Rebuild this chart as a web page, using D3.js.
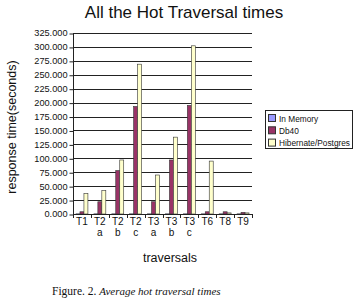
<!DOCTYPE html>
<html><head><meta charset="utf-8">
<script src="https://cdn.jsdelivr.net/npm/d3@7"></script>
<style>body{margin:0;background:#fff}svg{display:block}</style>
</head><body>
<svg id="c" width="363" height="301"></svg>
<script>
const categories = [["T1"],["T2","a"],["T2","b"],["T2","c"],["T3","a"],["T3","b"],["T3","c"],["T6"],["T8"],["T9"]];
const seriesNames = ["In Memory","Db40","Hibernate/Postgres"];
const inMemory = [0.3,0.3,0.3,0.3,0.3,0.3,0.3,0.3,0.3,0.3];
const db40 = [4,22,78,193,22,97,195,4,4,3];
const hibernate = [37,42,97,269,70,138,302,95,2,2];
const yTicks = [0,25,50,75,100,125,150,175,200,225,250,275,300,325];
const colors = ["#9999FF","#993366","#FFFFCC"];

const svg = d3.select("#c");
const L=73,R=252,T=33,B=214;
const x = d3.scaleBand().domain(d3.range(categories.length)).range([L,R]).paddingInner(0).paddingOuter(0);
const y = d3.scaleLinear().domain([0,325]).range([B,T]);
const series=[inMemory,db40,hibernate];
const bw = x.bandwidth()/4.5;

// gridlines
svg.append("g").selectAll("line").data(yTicks.filter(d=>d>0)).join("line")
  .attr("x1",L).attr("x2",R).attr("y1",d=>Math.round(y(d))+0.5).attr("y2",d=>Math.round(y(d))+0.5)
  .attr("stroke","#222").attr("stroke-width",1);

// bars
series.forEach((s,si)=>{
  svg.append("g").selectAll("rect").data(s).join("rect")
    .attr("x",(d,i)=>x(i)+bw*0.75+si*bw)
    .attr("width",bw)
    .attr("y",d=>y(d))
    .attr("height",d=>B-y(d))
    .attr("fill",colors[si]).attr("stroke","#333").attr("stroke-width",0.6);
});

// y axis
const ya = svg.append("g").attr("transform",`translate(${L+0.5},0)`)
  .call(d3.axisLeft(y).tickValues(yTicks).tickSize(4).tickFormat(d3.format(".3f")));
ya.select(".domain").attr("stroke","#222").attr("d",`M0,${T}V${B}`);
ya.selectAll(".tick line").attr("stroke","#222").attr("transform","translate(0,0.5)");
ya.selectAll("text").attr("font-family","Liberation Sans, Arial, sans-serif").attr("font-size",9.2).attr("fill","#111").attr("x",-6);

// x axis line and ticks
svg.append("line").attr("x1",L).attr("x2",R).attr("y1",B+0.5).attr("y2",B+0.5).attr("stroke","#222");
svg.append("g").selectAll("line").data(d3.range(categories.length+1)).join("line")
  .attr("x1",i=>Math.round(i<categories.length?x(i):R)+0.5).attr("x2",i=>Math.round(i<categories.length?x(i):R)+0.5)
  .attr("y1",B).attr("y2",B+4).attr("stroke","#222");
const xl = svg.append("g").selectAll("text").data(categories).join("text")
  .attr("x",(d,i)=>x(i)+x.bandwidth()/2).attr("y",225)
  .attr("text-anchor","middle").attr("font-family","Liberation Sans, Arial, sans-serif").attr("font-size",10).attr("fill","#111");
xl.selectAll("tspan").data(d=>d).join("tspan")
  .attr("x",function(){return this.parentNode.getAttribute("x");})
  .attr("dy",(d,i)=>i===0?0:10.5).text(d=>d);

// titles
svg.append("text").attr("x",184).attr("y",18).attr("text-anchor","middle")
  .attr("font-family","Liberation Sans, Arial, sans-serif").attr("font-size",17).attr("fill","#111")
  .text("All the Hot Traversal times");
svg.append("text").attr("transform","translate(16,127) rotate(-90)").attr("text-anchor","middle")
  .attr("font-family","Liberation Sans, Arial, sans-serif").attr("font-size",12.5).attr("fill","#111")
  .text("response time(seconds)");
svg.append("text").attr("x",170).attr("y",262).attr("text-anchor","middle")
  .attr("font-family","Liberation Sans, Arial, sans-serif").attr("font-size",12.5).attr("fill","#111")
  .text("traversals");

// legend
const lg = svg.append("g");
lg.append("rect").attr("x",265.5).attr("y",110.5).attr("width",87).attr("height",38)
  .attr("fill","#fff").attr("stroke","#222");
seriesNames.forEach((n,i)=>{
  lg.append("rect").attr("x",268.5).attr("y",114.5+i*12.3).attr("width",7).attr("height",7)
    .attr("fill",colors[i]).attr("stroke","#333");
  lg.append("text").attr("x",279).attr("y",121.5+i*12.3)
    .attr("font-family","Liberation Sans, Arial, sans-serif").attr("font-size",8.3).attr("fill","#111").text(n);
});

// caption
const cap = svg.append("text").attr("x",52).attr("y",295)
  .attr("font-family","Liberation Serif, Times New Roman, serif").attr("font-size",11.5).attr("fill","#111");
cap.append("tspan").text("Figure. 2. ");
cap.append("tspan").attr("font-style","italic").attr("font-size",11).text("Average hot traversal times");
</script>
</body></html>
